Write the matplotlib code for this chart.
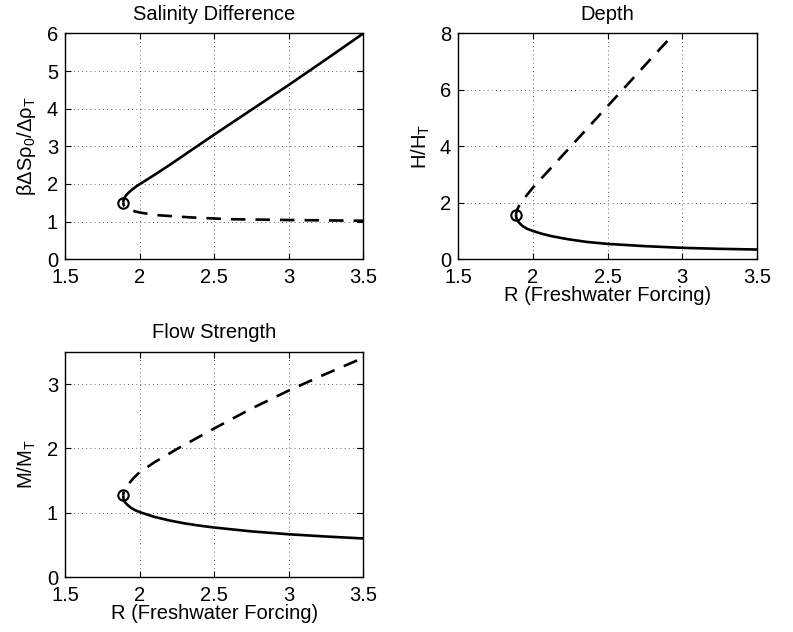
import matplotlib
matplotlib.use("Agg")
import matplotlib.pyplot as plt

plt.rcParams['font.family'] = ['Liberation Sans', 'DejaVu Sans']
plt.rcParams['mathtext.fontset'] = 'custom'
plt.rcParams['mathtext.rm'] = 'Liberation Sans'
plt.rcParams['mathtext.it'] = 'Liberation Sans'
plt.rcParams['mathtext.default'] = 'regular'

# Salinity difference
sal_stable_R = [1.89, 1.892, 1.897, 1.905, 1.915, 1.93, 1.95, 1.975, 2.0, 2.05, 2.1, 2.2,
                2.3, 2.4, 2.5, 2.75, 3.0, 3.25, 3.5]
sal_stable_S = [1.50, 1.56, 1.62, 1.67, 1.72, 1.78, 1.85, 1.925, 1.99, 2.115, 2.24, 2.50,
                2.77, 3.04, 3.31, 3.97, 4.63, 5.31, 6.00]
sal_unstable_R = [1.89, 1.895, 1.91, 1.935, 1.96, 2.0, 2.115, 2.34, 2.5, 2.63, 3.0, 3.5]
sal_unstable_S = [1.50, 1.42, 1.36, 1.31, 1.28, 1.24, 1.17, 1.11, 1.08, 1.06, 1.04, 1.02]

# Depth
dep_stable_R = [1.887, 1.89, 1.895, 1.907, 1.93, 1.96, 2.0, 2.06, 2.12, 2.23, 2.36, 2.5,
                2.75, 3.0, 3.25, 3.5]
dep_stable_H = [1.57, 1.47, 1.40, 1.30, 1.18, 1.08, 1.00, 0.90, 0.82, 0.71, 0.61, 0.54,
                0.46, 0.40, 0.365, 0.34]
dep_unstable_R = [1.887, 1.893, 1.908, 1.93, 1.96, 2.0, 2.25, 2.5, 2.75, 3.0]
dep_unstable_H = [1.57, 1.72, 1.89, 2.06, 2.27, 2.53, 3.97, 5.42, 6.87, 8.31]

# Flow strength
flow_stable_R = [1.89, 1.893, 1.90, 1.915, 1.94, 1.97, 2.0, 2.1, 2.2, 2.3, 2.4, 2.5,
                 2.75, 3.0, 3.25, 3.5]
flow_stable_M = [1.27, 1.21, 1.17, 1.13, 1.08, 1.04, 1.01, 0.935, 0.88, 0.835, 0.80, 0.77,
                 0.71, 0.665, 0.63, 0.60]
flow_unstable_R = [1.89, 1.895, 1.91, 1.927, 1.96, 2.0, 2.1, 2.25, 2.5, 2.75, 3.0, 3.25, 3.5]
flow_unstable_M = [1.27, 1.34, 1.40, 1.45, 1.54, 1.63, 1.785, 1.99, 2.31, 2.62, 2.90, 3.16, 3.41]

bif_R = [1.891, 1.887, 1.89]
bif_Y = [1.50, 1.57, 1.27]

fig = plt.figure(figsize=(7.93, 6.32), dpi=100)
ax1 = fig.add_axes([0.082, 0.590, 0.376, 0.357])
ax2 = fig.add_axes([0.5776, 0.590, 0.377, 0.357])
ax3 = fig.add_axes([0.082, 0.087, 0.376, 0.356])

panels = [
    (ax1, sal_stable_R, sal_stable_S, sal_unstable_R, sal_unstable_S, 0, (0, 6), range(0, 7),
     'Salinity Difference', r'$\beta\Delta S\rho_0/\Delta\rho_T$', None, 4.0),
    (ax2, dep_stable_R, dep_stable_H, dep_unstable_R, dep_unstable_H, 1, (0, 8), range(0, 9, 2),
     'Depth', r'H/H$_T$', 'R (Freshwater Forcing)', 1.5),
    (ax3, flow_stable_R, flow_stable_M, flow_unstable_R, flow_unstable_M, 2, (0, 3.5), range(0, 4),
     'Flow Strength', r'M/M$_T$', 'R (Freshwater Forcing)', 4.0),
]

for ax, sR, sY, uR, uY, bi, ylim, yt, title, ylab, xlab, off in panels:
    ax.plot(sR, sY, color='black', lw=1.9, solid_capstyle='butt', solid_joinstyle='round')
    ax.plot(uR, uY, color='black', lw=1.9, linestyle=(off, (5.5, 3.8)))
    ax.plot([bif_R[bi]], [bif_Y[bi]], marker='o', ms=7.5, mfc='none', mec='black', mew=1.5)
    ax.set_xlim(1.5, 3.5)
    ax.set_ylim(*ylim)
    ax.set_xticks([1.5, 2, 2.5, 3, 3.5])
    ax.set_xticklabels(['1.5', '2', '2.5', '3', '3.5'])
    ax.set_yticks(list(yt))
    ax.grid(True, color='black', linestyle=(0, (1, 4)), linewidth=0.6, alpha=0.8)
    ax.tick_params(direction='in', length=4, width=0.8, top=True, right=True,
                   labelsize=14.5)
    ax.tick_params(axis='x', pad=6.5)
    ax.tick_params(axis='y', pad=5)
    for sp in ax.spines.values():
        sp.set_linewidth(1.0)
    ax.set_title(title, fontsize=14.5, pad=10)
    ax.set_ylabel(ylab, fontsize=14.5, labelpad=6)
    if xlab:
        ax.set_xlabel(xlab, fontsize=14.5, labelpad=-1)

fig.savefig('out.png', dpi=100)
